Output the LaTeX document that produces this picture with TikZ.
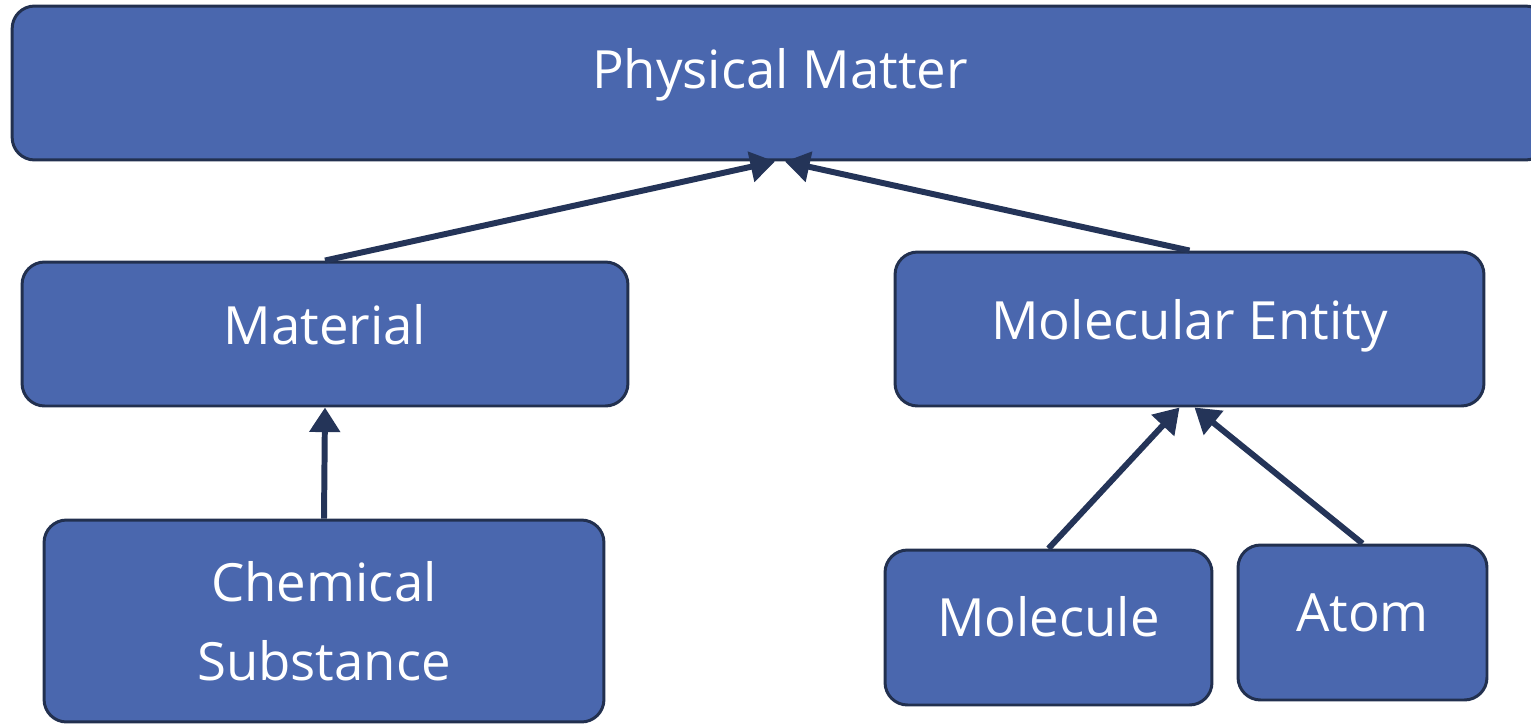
\documentclass[tikz,border=0pt]{standalone}
\usepackage{fontspec}
\setmainfont{Open Sans}
\usetikzlibrary{arrows.meta}
\definecolor{boxfill}{HTML}{4A67AE}
\definecolor{boxline}{HTML}{22304F}
\definecolor{arrowc}{HTML}{243458}
\begin{document}
\begin{tikzpicture}[x=0.02cm,y=-0.02cm,
  box/.style={draw=boxline, line width=1.7pt, fill=boxfill, rounded corners=0.45cm,
    text=white, font=\fontsize{30}{45}\selectfont, align=center, inner sep=0pt},
  oneline/.style={text height=24pt, text depth=#1},
  link/.style={draw=arrowc, line width=3.4pt, -{Triangle[length=14pt,width=17pt]}}]
\useasboundingbox (0,0) rectangle (1531,724);
\node[box, oneline=18.3pt, minimum width=30.72cm, minimum height=3.08cm] (pm) at (780,83) {Physical Matter};
\node[box, oneline=11.5pt, minimum width=12.12cm, minimum height=2.88cm] (mat) at (325,334) {Material};
\node[box, oneline=11.5pt, minimum width=11.78cm, minimum height=3.08cm] (me) at (1189.5,329) {Molecular Entity};
\node[box, minimum width=11.2cm, minimum height=4.04cm] (cs) at (324,621) {Chemical\\Substance};
\node[box, oneline=13.2pt, minimum width=6.54cm, minimum height=3.1cm] (mol) at (1048.5,627.5) {Molecule};
\node[box, oneline=13.2pt, minimum width=4.98cm, minimum height=3.1cm] (atom) at (1362.5,622.5) {Atom};
\draw[link] (mat.north) -- ([xshift=-0.1cm]pm.south);
\draw[link] (me.north) -- ([xshift=0.1cm]pm.south);
\draw[link] (cs.north) -- (mat.south);
\draw[link] (mol.north) -- ([xshift=-0.2cm]me.south);
\draw[link] (atom.north) -- ([xshift=0.1cm]me.south);
\end{tikzpicture}
\end{document}
